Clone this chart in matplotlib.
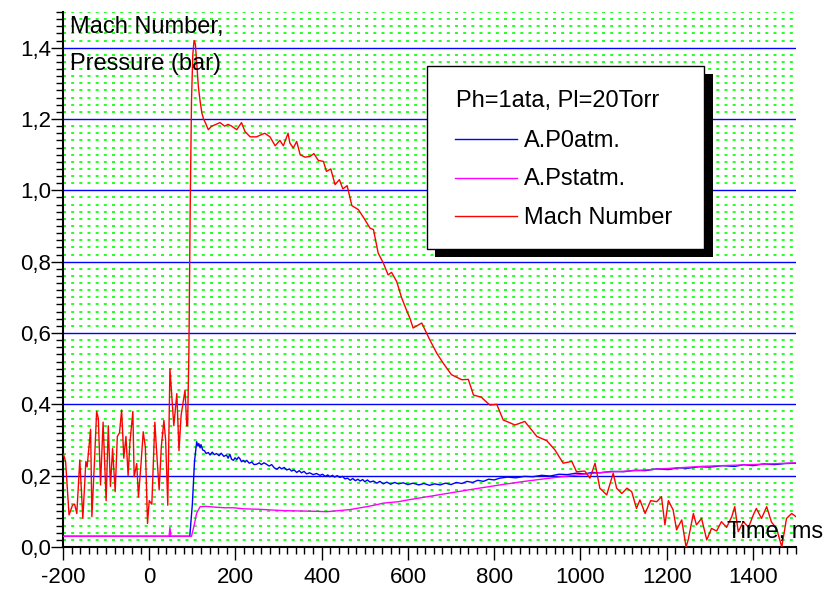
import matplotlib
matplotlib.use("Agg")
import matplotlib.pyplot as plt
from matplotlib.ticker import MultipleLocator, FuncFormatter
from matplotlib.patches import Rectangle
from matplotlib.lines import Line2D

plt.rcParams['font.family'] = ['Liberation Sans', 'DejaVu Sans']

# --- data ---
mach_t = [-199, -194, -186, -178, -173, -168, -161, -154, -147, -144, -136, -133,
          -127, -122, -118, -113, -107, -100, -95, -90, -85, -79, -74, -69, -64,
          -59, -54, -49, -45, -38, -35, -29, -25, -19, -14, -9, -4, 0, 6, 10, 13,
          17, 23, 28, 34, 38, 43, 48, 52, 57, 64, 69, 74, 79, 83, 87, 89, 92, 95,
          98, 101, 104, 107, 110, 114, 118, 122, 126, 130, 137, 145, 155, 164, 175,
          183, 191, 203, 214, 222, 234, 249, 258, 268, 280, 292, 303, 311, 322, 326,
          334, 342, 350, 361, 373, 382, 392, 404, 411, 421, 431, 441, 449, 459, 470,
          485, 498, 512, 520, 531, 543, 554, 562, 574, 585, 598, 605, 612, 632, 651,
          667, 682, 701, 725, 740, 752, 770, 790, 806, 821, 837, 848, 871, 887, 899,
          922, 941, 960, 980, 991, 1010, 1022, 1034, 1045, 1061, 1076, 1084, 1096,
          1108, 1119, 1130, 1138, 1150, 1163, 1177, 1188, 1196, 1204, 1215, 1223,
          1235, 1245, 1250, 1262, 1269, 1281, 1293, 1304, 1316, 1327, 1339, 1351,
          1358, 1366, 1378, 1390, 1401, 1408, 1420, 1432, 1443, 1455, 1467, 1478,
          1490, 1500]
mach_v = [0.26, 0.24, 0.09, 0.117, 0.12, 0.094, 0.244, 0.08, 0.24, 0.225, 0.33, 0.085,
          0.24, 0.38, 0.36, 0.174, 0.35, 0.13, 0.34, 0.17, 0.276, 0.155, 0.31, 0.32, 0.384,
          0.249, 0.31, 0.2, 0.29, 0.38, 0.197, 0.234, 0.14, 0.234, 0.323, 0.28, 0.066, 0.13,
          0.12, 0.255, 0.35, 0.27, 0.16, 0.28, 0.355, 0.30, 0.117, 0.50, 0.43, 0.34, 0.43,
          0.27, 0.37, 0.41, 0.44, 0.34, 0.34, 0.55, 0.95, 1.25, 1.38, 1.42, 1.41, 1.36,
          1.29, 1.25, 1.217, 1.20, 1.19, 1.17, 1.18, 1.185, 1.19, 1.18, 1.185, 1.18, 1.17,
          1.19, 1.165, 1.15, 1.15, 1.155, 1.16, 1.15, 1.125, 1.14, 1.125, 1.16, 1.133,
          1.119, 1.137, 1.10, 1.093, 1.095, 1.103, 1.084, 1.081, 1.053, 1.06, 1.016, 1.03,
          1.004, 1.013, 0.957, 0.946, 0.922, 0.894, 0.89, 0.824, 0.796, 0.763, 0.77, 0.744,
          0.70, 0.66, 0.64, 0.614, 0.628, 0.58, 0.543, 0.515, 0.483, 0.469, 0.47, 0.426,
          0.42, 0.398, 0.40, 0.356, 0.348, 0.342, 0.352, 0.328, 0.31, 0.298, 0.272, 0.235,
          0.24, 0.211, 0.213, 0.193, 0.235, 0.165, 0.146, 0.207, 0.165, 0.15, 0.165, 0.155,
          0.108, 0.132, 0.094, 0.13, 0.127, 0.141, 0.062, 0.13, 0.104, 0.048, 0.076, 0.0,
          0.02, 0.094, 0.062, 0.08, 0.02, 0.052, 0.045, 0.071, 0.055, 0.085, 0.113, 0.043,
          0.071, 0.055, 0.09, 0.108, 0.08, 0.113, 0.07, 0.052, 0.0, 0.08, 0.094, 0.085]

p0_t = [-200, 94, 100, 105, 110, 113, 115, 118, 120, 124, 128, 132, 137, 141, 146, 151,
        156, 162, 167, 173, 179, 183, 187, 191, 195, 199, 203, 207, 210, 214, 218, 222,
        226, 232, 238, 243, 249, 255, 260, 266, 272, 278, 284, 290, 296, 302, 307, 313,
        319, 325, 330, 336, 342, 348, 353, 359, 365, 372, 380, 388, 396, 402, 408, 414,
        419, 425, 430, 436, 442, 448, 454, 460, 466, 472, 478, 484, 489, 495, 500, 506,
        512, 520, 528, 535, 543, 551, 560, 569, 578, 589, 600, 612, 625, 637, 650, 662,
        675, 687, 700, 712, 725, 737, 750, 762, 775, 787, 800, 813, 831, 850, 870, 890,
        910, 930, 950, 970, 990, 1010, 1027, 1045, 1072, 1100, 1125, 1150, 1177, 1204,
        1227, 1250, 1275, 1300, 1329, 1358, 1379, 1400, 1425, 1450, 1475, 1500]
p0_v = [0.03, 0.03, 0.12, 0.24, 0.295, 0.283, 0.29, 0.278, 0.287, 0.272, 0.27, 0.262,
        0.265, 0.258, 0.266, 0.259, 0.262, 0.256, 0.263, 0.254, 0.258, 0.249, 0.26, 0.246,
        0.243, 0.25, 0.245, 0.252, 0.248, 0.239, 0.243, 0.238, 0.243, 0.235, 0.238, 0.231,
        0.232, 0.236, 0.231, 0.236, 0.232, 0.227, 0.231, 0.222, 0.218, 0.224, 0.219, 0.223,
        0.216, 0.219, 0.213, 0.216, 0.209, 0.214, 0.208, 0.212, 0.205, 0.208, 0.203, 0.206,
        0.201, 0.204, 0.198, 0.202, 0.197, 0.201, 0.196, 0.2, 0.195, 0.198, 0.191, 0.193,
        0.187, 0.192, 0.186, 0.19, 0.185, 0.189, 0.183, 0.188, 0.182, 0.185, 0.179, 0.184,
        0.177, 0.182, 0.176, 0.181, 0.177, 0.18, 0.175, 0.179, 0.174, 0.178, 0.173, 0.177,
        0.174, 0.179, 0.175, 0.181, 0.178, 0.184, 0.181, 0.187, 0.184, 0.19, 0.188, 0.193,
        0.196, 0.194, 0.198, 0.197, 0.201, 0.199, 0.204, 0.203, 0.207, 0.205, 0.209, 0.208,
        0.212, 0.211, 0.215, 0.214, 0.219, 0.217, 0.222, 0.221, 0.225, 0.224, 0.228, 0.226,
        0.231, 0.228, 0.233, 0.231, 0.234, 0.235]

pst_t = [-200, 46, 48, 50, 98, 104, 110, 118, 130, 150, 175, 195, 220, 250, 280, 311,
         350, 388, 411, 440, 466, 485, 504, 525, 543, 578, 600, 650, 700, 750, 813, 870,
         929, 1006, 1060, 1126, 1200, 1281, 1350, 1420, 1500]
pst_v = [0.03, 0.03, 0.055, 0.03, 0.03, 0.06, 0.095, 0.113, 0.114, 0.112, 0.11, 0.11,
         0.107, 0.106, 0.104, 0.102, 0.101, 0.10, 0.099, 0.102, 0.105, 0.109, 0.113,
         0.118, 0.123, 0.127, 0.132, 0.142, 0.152, 0.162, 0.174, 0.184, 0.193, 0.204,
         0.21, 0.214, 0.22, 0.226, 0.229, 0.232, 0.236]

legend_title = "Ph=1ata, Pl=20Torr"
series_names = ["A.P0atm.", "A.Pstatm.", "Mach Number"]
series_colors = ["#0000ff", "#ff00ff", "#ff0000"]

W, H = 826, 590


def fx(x):
    return x / W


def fy(y):
    return 1 - y / H


fig = plt.figure(figsize=(W / 100, H / 100), dpi=100)
ax = fig.add_axes([fx(63), fy(547), fx(796) - fx(63), fy(12) - fy(547)])

ax.plot(p0_t, p0_v, color=series_colors[0], lw=1.0, zorder=3)
ax.plot(pst_t, pst_v, color=series_colors[1], lw=1.0, zorder=4)
ax.plot(mach_t, mach_v, color=series_colors[2], lw=1.0, zorder=5)

ax.set_xlim(-200, 1500)
ax.set_ylim(0, 1.5)

ax.xaxis.set_major_locator(MultipleLocator(200))
ax.xaxis.set_minor_locator(MultipleLocator(20))
ax.yaxis.set_major_locator(MultipleLocator(0.2))
ax.yaxis.set_minor_locator(MultipleLocator(0.02))
ax.xaxis.set_major_formatter(FuncFormatter(lambda v, p: "%d" % round(v)))
ax.yaxis.set_major_formatter(FuncFormatter(lambda v, p: ("%.1f" % v).replace('.', ',')))

ax.set_axisbelow(True)
ax.grid(which='minor', axis='y', color='#00ff00', lw=1.2, linestyle=(0, (1.8, 3.1)))
ax.grid(which='major', axis='y', color='#0000ff', lw=1.0)
ax.grid(which='both', axis='x', visible=False)

for s in ['top', 'right']:
    ax.spines[s].set_visible(False)
for s in ['left', 'bottom']:
    ax.spines[s].set_linewidth(1.5)

ax.tick_params(axis='y', which='major', direction='out', length=8.6, width=1.0,
               labelsize=16, pad=0)
ax.tick_params(axis='y', which='minor', direction='out', length=5, width=1.0)
ax.tick_params(axis='x', which='major', direction='out', length=9.4, width=1.0,
               labelsize=16, pad=5)
ax.tick_params(axis='x', which='minor', direction='out', length=4.8, width=1.0)

# axis titles inside the plot
fig.text(fx(70), fy(32.5), "Mach Number,", fontsize=17, va='baseline', ha='left')
fig.text(fx(70), fy(70), "Pressure (bar)", fontsize=17, va='baseline', ha='left')
fig.text(fx(727), fy(538), "Time, ms", fontsize=17, va='baseline', ha='left', zorder=6)

# legend box with hard black shadow
fig.add_artist(Rectangle((fx(435), fy(257)), fx(713) - fx(435), fy(74) - fy(257),
                         transform=fig.transFigure, facecolor='black', edgecolor='none',
                         zorder=7))
fig.add_artist(Rectangle((fx(427), fy(249)), fx(704) - fx(427), fy(66) - fy(249),
                         transform=fig.transFigure, facecolor='white', edgecolor='black',
                         lw=1.0, zorder=8))
fig.text(fx(456), fy(107.5), legend_title, fontsize=17, va='baseline', ha='left', zorder=9)
for i, (name, col) in enumerate(zip(series_names, series_colors)):
    ly = 139 + i * 38.5
    fig.add_artist(Line2D([fx(455), fx(517)], [fy(ly), fy(ly)], color=col, lw=1.0,
                          transform=fig.transFigure, zorder=9))
    fig.text(fx(524), fy(ly + 7.7), name, fontsize=17, va='baseline', ha='left', zorder=9)

fig.savefig("out.png", dpi=100)
